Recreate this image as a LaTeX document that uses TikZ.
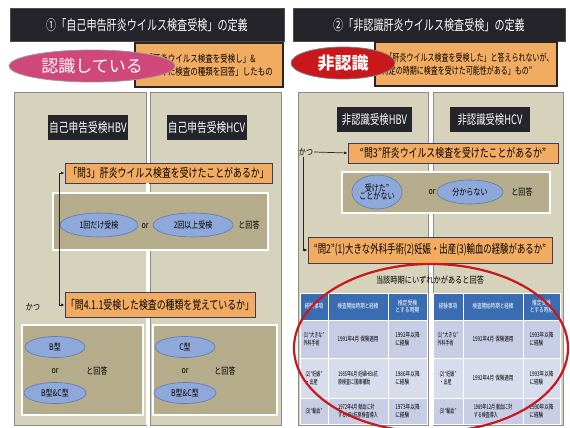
\documentclass[tikz,border=0pt]{standalone}
\usepackage{fontspec}
\usepackage{graphicx}
\setmainfont{Noto Sans CJK JP}
\usetikzlibrary{shapes.geometric,arrows.meta,calc}
\newcommand\cx[2][0.78]{\scalebox{#1}[1]{#2}}
\definecolor{panel}{RGB}{214,210,188}
\definecolor{ansbox}{RGB}{180,172,138}
\definecolor{orng}{RGB}{242,172,98}
\definecolor{obord}{RGB}{60,60,95}
\definecolor{darkbar}{RGB}{36,36,42}
\definecolor{ell}{RGB}{143,168,218}
\definecolor{ellb}{RGB}{95,120,182}
\definecolor{pinkel}{RGB}{208,72,122}
\definecolor{redel}{RGB}{200,24,28}
\definecolor{thead}{RGB}{58,108,178}
\definecolor{tcell}{RGB}{198,205,228}
\definecolor{tcelll}{RGB}{216,221,238}
\tikzset{
  panelbox/.style={draw=black!45, fill=panel, line width=0.6},
  titlebar/.style={fill=darkbar, draw=black!70, line width=0.8, text=white, inner sep=0, font=\fontsize{14}{16}\selectfont},
  defbox/.style={fill=orng, draw=black!85, line width=1.2, inner sep=0, font=\fontsize{10}{13}\selectfont},
  qbox/.style={fill=orng, draw=obord, line width=0.8, inner sep=0, font=\fontsize{12}{14}\selectfont},
  hdr/.style={fill=darkbar, text=white, inner sep=0, font=\fontsize{13}{15}\selectfont},
  ansb/.style={fill=ansbox, draw=white, line width=1.6, inner sep=0},
  bel/.style={ellipse, fill=ell, draw=ellb, line width=0.6, inner sep=0, font=\fontsize{9}{10}\selectfont, align=center},
  lbl/.style={inner sep=1, font=\fontsize{9}{10}\selectfont},
  dbl/.style={draw=black!75, double=white, double distance=2.4, line width=0.7},
  arr/.style={-{Latex[length=3.5,width=3]}, line width=0.7, draw=black!85},
  arrboth/.style={{Latex[length=3.5,width=3]}-{Latex[length=3.5,width=3]}, line width=0.7, draw=black!85},
  th/.style={fill=thead, draw=white, line width=0.8, text=white, inner sep=0, align=center, font=\fontsize{6.5}{7.5}\selectfont},
  td/.style={fill=tcell, draw=white, line width=0.8, inner sep=0, align=left, font=\fontsize{6.5}{8}\selectfont},
  tdl/.style={td, fill=tcelll},
}
\begin{document}
\begin{tikzpicture}[x=1pt,y=-1pt]
\useasboundingbox (0,0) rectangle (570,428);
\fill[white] (0,0) rectangle (570,428);

% ---------- left half ----------
\node[titlebar, minimum width=274, minimum height=33] (tL) at (147,25) {\cx[0.72]{①「自己申告肝炎ウイルス検査受検」の定義}};
\node[defbox, minimum width=148, minimum height=44, align=left] (dL) at (209,65)
  {\cx[0.75]{「肝炎ウイルス検査を受検し」\&}\\\cx[0.75]{「受けた検査の種類を回答」したもの}};
\node[ellipse, fill=pinkel, draw=black!40, line width=0.8, minimum width=166, minimum height=32, inner sep=0, text=white, font=\fontsize{17}{19}\selectfont] (eL) at (92,66) {認識している};

\node[panelbox, minimum width=132, minimum height=333, inner sep=0] (pL1) at (80,258.5) {};
\node[panelbox, minimum width=131, minimum height=333, inner sep=0] (pL2) at (215.5,258.5) {};

\node[hdr, minimum width=80, minimum height=25] (hL1) at (88,127.5) {\cx[0.75]{自己申告受検HBV}};
\node[hdr, minimum width=80, minimum height=25] (hL2) at (206.5,127.5) {\cx[0.75]{自己申告受検HCV}};

\node[qbox, minimum width=207, minimum height=20] (q3L) at (168.5,173) {\cx[0.74]{「問3」肝炎ウイルス検査を受けたことがあるか」}};
\node[ansb, minimum width=215, minimum height=57] (aL) at (160.5,221.5) {};
\node[bel, minimum width=78, minimum height=24] (e1) at (99,225) {\cx{1回だけ受検}};
\node[lbl] (or1) at (145,226) {\cx{or}};
\node[bel, minimum width=80, minimum height=24] (e2) at (193,225) {\cx{2回以上受検}};
\node[lbl] (ka1) at (249,225) {\cx{と回答}};

\node[qbox, minimum width=190, minimum height=25] (q4L) at (160,305) {\cx[0.74]{「問4.1.1受検した検査の種類を覚えているか」}};
\node[lbl] (katsuL) at (33,307) {\cx{かつ}};

\node[ansb, minimum width=121, minimum height=90] (bL1) at (82.5,370) {};
\node[ansb, minimum width=124, minimum height=90] (bL2) at (215,370) {};
\node[bel, minimum width=60, minimum height=21] (b1) at (55,347) {\cx{B型}};
\node[lbl] (or2) at (55,371) {\cx{or}};
\node[bel, minimum width=62, minimum height=21] (b2) at (55,393) {\cx{B型\&C型}};
\node[lbl] (ka2) at (97,371) {\cx{と回答}};
\node[bel, minimum width=60, minimum height=21] (c1) at (185,347) {\cx{C型}};
\node[lbl] (or3) at (185,371) {\cx{or}};
\node[bel, minimum width=62, minimum height=21] (c2) at (185,393) {\cx{B型\&C型}};
\node[lbl] (ka3) at (225,371) {\cx{と回答}};

\coordinate (gL) at (147.5,0);
\coordinate (gLb) at (147.5,425);
\draw[dbl] (q3L.south -| gL) -- (aL.north -| gL);
\draw[dbl] (aL.south -| gL) -- (q4L.north -| gL);
\draw[dbl] (q4L.south -| gL) -- (gLb);
\draw[arrboth] (q3L.west) -- ++(-5,0) |- (q4L.west);

% ---------- right half ----------
\node[titlebar, minimum width=272, minimum height=33] (tR) at (429,25) {\cx[0.72]{②「非認識肝炎ウイルス検査受検」の定義}};
\node[defbox, minimum width=182, minimum height=44, align=left] (dR) at (466,64)
  {\cx[0.7]{●「肝炎ウイルス検査を受検した」と答えられないが、}\\\cx[0.7]{“特定の時期に検査を受けた可能性がある」もの”}};
\node[ellipse, fill=redel, draw=black!50, line width=0.8, minimum width=104, minimum height=32, inner sep=0, text=white, font=\fontsize{17}{19}\selectfont\bfseries] (eR) at (343,63) {非認識};

\node[panelbox, minimum width=130, minimum height=333, inner sep=0] (pR1) at (363,258.5) {};
\node[panelbox, minimum width=130, minimum height=333, inner sep=0] (pR2) at (498,258.5) {};

\node[hdr, minimum width=75, minimum height=25] (hR1) at (374.5,119.5) {\cx[0.72]{非認識受検HBV}};
\node[hdr, minimum width=80, minimum height=25] (hR2) at (490,119.5) {\cx[0.72]{非認識受検HCV}};

\node[lbl] (katsuR) at (306,152) {\cx{かつ}};
\node[qbox, minimum width=210, minimum height=20] (q3R) at (453,153) {\cx[0.74]{“問3”肝炎ウイルス検査を受けたことがあるか”}};
\node[ansb, minimum width=208, minimum height=41] (aR) at (446,192.5) {};
\node[bel, minimum width=50, minimum height=34] (r1) at (377,192) {\cx{受けた”}\\[-2pt]\cx{ことがない}};
\node[lbl] (or4) at (432,192) {\cx{or}};
\node[bel, minimum width=66, minimum height=24] (r2) at (470,192) {\cx{分からない}};
\node[lbl] (ka4) at (522,192) {\cx{と回答}};

\node[qbox, minimum width=244, minimum height=26] (q2R) at (430,250) {\cx[0.7]{“問2”(1)大きな外科手術(2)妊娠・出産(3)輸血の経験があるか”}};
\node[lbl] (tok) at (430,280) {\cx[0.8]{当該時期にいずれかがあると回答}};

\coordinate (gR) at (430.5,0);
\coordinate (gRb) at (430.5,425);
\draw[dbl] (aR.south -| gR) -- (q2R.north -| gR);
\draw[arr] (katsuR.east) -- (q3R.west);
\draw[arr] ([xshift=-3]katsuR.south) |- (q2R.west);

% tables: rows 293,320,358,398,424
% left cols 300,328,388,427
\node[th, minimum width=28, minimum height=27] (lh1) at (314,306.5) {\cx[0.7]{経験事項}};
\node[th, minimum width=60, minimum height=27] (lh2) at (358,306.5) {\cx[0.7]{検査開始時期と経緯}};
\node[th, minimum width=39, minimum height=27] (lh3) at (407.5,306.5) {\cx[0.75]{推定受検}\\\cx[0.75]{とする時期}};
\node[td, minimum width=28, minimum height=38] (l11) at (314,339) {\cx[0.62]{(1)“大きな”}\\\cx[0.62]{外科手術}};
\node[td, minimum width=60, minimum height=38] (l12) at (358,339) {\cx[0.7]{1991年4月 保険適用}};
\node[td, minimum width=39, minimum height=38] (l13) at (407.5,339) {\cx[0.72]{1992年以降}\\\cx[0.72]{に経験}};
\node[tdl, minimum width=28, minimum height=40] (l21) at (314,378) {\cx[0.62]{(2)“妊娠”}\\\cx[0.62]{・出産}};
\node[tdl, minimum width=60, minimum height=40] (l22) at (358,378) {\cx[0.62]{1985年6月 妊婦HBs抗}\\\cx[0.62]{原検査に国庫補助}};
\node[tdl, minimum width=39, minimum height=40] (l23) at (407.5,378) {\cx[0.72]{1986年以降}\\\cx[0.72]{に経験}};
\node[td, minimum width=28, minimum height=26] (l31) at (314,411) {\cx[0.62]{(3)“輸血”}};
\node[td, minimum width=60, minimum height=26] (l32) at (358,411) {\cx[0.62]{1972年4月 献血に対}\\\cx[0.62]{するHBs抗原検査導入}};
\node[td, minimum width=39, minimum height=26] (l33) at (407.5,411) {\cx[0.72]{1973年以降}\\\cx[0.72]{に経験}};
% right cols 433,463,523,560
\node[th, minimum width=30, minimum height=27] (rh1) at (448,306.5) {\cx[0.7]{経験事項}};
\node[th, minimum width=60, minimum height=27] (rh2) at (493,306.5) {\cx[0.7]{検査開始時期と経緯}};
\node[th, minimum width=37, minimum height=27] (rh3) at (541.5,306.5) {\cx[0.72]{推定受検}\\\cx[0.72]{とする時期}};
\node[td, minimum width=30, minimum height=38] (r11) at (448,339) {\cx[0.62]{(1)“大きな”}\\\cx[0.62]{外科手術}};
\node[td, minimum width=60, minimum height=38] (r12) at (493,339) {\cx[0.7]{1992年4月 保険適用}};
\node[td, minimum width=37, minimum height=38] (r13) at (541.5,339) {\cx[0.7]{1993年以降}\\\cx[0.7]{に経験}};
\node[tdl, minimum width=30, minimum height=40] (r21) at (448,378) {\cx[0.62]{(2)“妊娠”}\\\cx[0.62]{・出産}};
\node[tdl, minimum width=60, minimum height=40] (r22) at (493,378) {\cx[0.7]{1992年4月 保険適用}};
\node[tdl, minimum width=37, minimum height=40] (r23) at (541.5,378) {\cx[0.7]{1993年以降}\\\cx[0.7]{に経験}};
\node[td, minimum width=30, minimum height=26] (r31) at (448,411) {\cx[0.62]{(3)“輸血”}};
\node[td, minimum width=60, minimum height=26] (r32) at (493,411) {\cx[0.62]{1989年12月 献血に対}\\\cx[0.62]{する検査導入}};
\node[td, minimum width=37, minimum height=26] (r33) at (541.5,411) {\cx[0.7]{1990年以降}\\\cx[0.7]{に経験}};

\draw[redel, line width=2.2] (431,348) ellipse [x radius=137, y radius=84];
\end{tikzpicture}
\end{document}
